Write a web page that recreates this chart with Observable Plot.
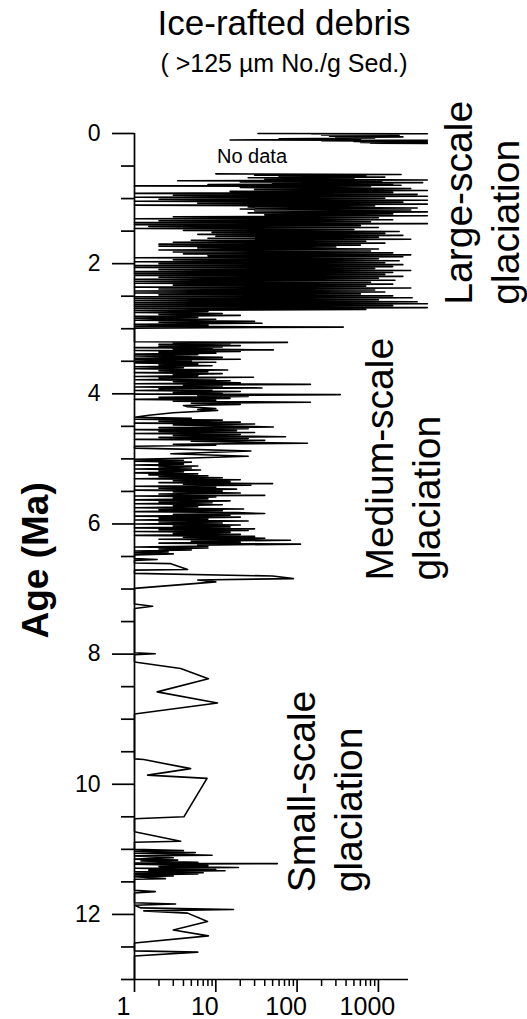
<!DOCTYPE html>
<html><head><meta charset="utf-8">
<script src="https://cdn.jsdelivr.net/npm/d3@7"></script>
<script src="https://cdn.jsdelivr.net/npm/@observablehq/plot@0.6"></script>
<style>
html,body{margin:0;padding:0;background:#fff;}
#wrap{position:relative;width:527px;height:1019px;font-family:"Liberation Sans",Arial,sans-serif;color:#000;overflow:hidden}
.t{position:absolute;left:284px;transform:translateX(-50%);white-space:nowrap;line-height:1}
#title{top:5px;font-size:35px}
#sub{top:51px;font-size:25px}
#chart{position:absolute;left:0;top:0}
</style></head><body>
<div id="wrap"><div id="chart"></div><div class="t" id="title">Ice-rafted debris</div><div class="t" id="sub">( &gt;125 µm No./g Sed.)</div></div>
<script>
// Age (Ma) of each sample
const ageMa = [
  0.000,0.004,0.008,0.012,0.016,0.020,0.024,0.028,0.032,0.036,
  0.040,0.044,0.048,0.052,0.060,0.070,0.080,0.090,0.100,0.105,
  0.112,0.118,0.124,0.130,0.136,0.142,0.148,0.152,
  0.400,
  0.620,0.630,0.640,0.650,0.660,0.670,0.680,0.690,0.700,0.715,
  0.725,0.735,0.745,0.755,0.765,0.775,0.785,0.795,0.805,0.815,
  0.830,0.845,0.860,0.875,0.890,0.905,0.920,0.935,0.950,0.965,
  0.980,0.995,1.010,1.025,1.040,1.055,1.070,1.085,1.100,1.115,
  1.130,1.145,1.160,1.175,1.190,1.205,1.220,1.235,1.250,1.265,
  1.280,1.295,1.310,1.325,1.340,1.355,1.370,1.385,1.400,1.415,
  1.430,1.445,1.460,1.475,1.490,1.505,1.520,1.535,1.550,1.565,
  1.580,1.595,1.610,1.625,1.640,1.655,1.670,1.685,1.700,1.715,
  1.730,1.745,1.760,1.775,1.790,1.805,1.820,1.835,1.850,1.865,
  1.880,1.895,1.910,1.925,1.940,1.955,1.970,1.985,2.000,2.015,
  2.030,2.045,2.060,2.075,2.090,2.105,2.120,2.135,2.150,2.165,
  2.180,2.195,2.210,2.225,2.240,2.255,2.270,2.285,2.300,2.315,
  2.330,2.345,2.360,2.375,2.390,2.405,2.420,2.435,2.450,2.465,
  2.480,2.495,2.510,2.525,2.540,2.555,2.570,2.585,2.600,2.615,
  2.630,2.645,2.660,2.675,2.690,2.705,2.720,
  2.735,2.750,2.765,2.780,2.795,2.810,2.825,2.840,2.855,2.870,
  2.885,2.900,2.915,2.930,2.945,2.960,2.975,2.990,3.200,3.210,
  3.220,3.230,3.240,3.250,3.260,3.270,3.280,3.290,3.300,3.310,
  3.325,3.335,3.350,3.360,3.375,3.390,3.400,3.420,3.440,3.455,
  3.470,3.480,
  3.495,3.505,3.515,3.525,3.540,3.555,3.570,3.585,3.600,3.615,
  3.635,3.645,3.660,3.675,3.690,3.705,3.720,3.735,3.745,3.755,
  3.770,3.785,3.800,3.815,3.830,3.845,3.855,3.865,3.880,3.895,
  3.910,3.920,3.935,3.950,3.965,3.980,3.995,4.005,4.012,4.025,
  4.040,4.055,4.070,4.085,4.100,4.115,4.130,4.145,4.165,4.180,
  4.200,4.225,4.240,4.255,4.290,4.330,4.360,
  4.375,4.390,4.405,4.420,4.435,4.450,4.465,4.480,4.495,4.510,
  4.520,4.535,4.550,4.565,4.580,4.595,4.610,4.625,4.640,4.660,
  4.670,4.685,4.700,4.715,4.730,4.745,4.760,4.775,4.790,4.805,
  4.835,4.850,4.880,4.920,4.960,4.990,
  5.005,5.020,5.035,5.050,5.065,5.080,5.095,5.110,5.125,5.140,
  5.155,5.170,5.185,5.200,5.215,5.230,5.245,5.260,5.275,5.290,
  5.305,5.320,5.335,5.350,5.365,5.380,5.390,5.405,5.420,5.435,
  5.450,5.465,5.480,5.495,5.510,5.525,5.540,5.560,5.570,5.585,
  5.600,5.615,5.630,5.645,5.660,5.675,5.690,5.705,5.720,5.735,
  5.750,5.770,5.780,5.795,5.810,5.825,5.840,5.850,5.865,5.880,
  5.895,5.910,5.925,5.940,5.955,5.970,5.985,6.000,6.015,6.030,
  6.045,6.060,6.075,6.090,6.100,6.115,6.130,6.145,6.160,6.175,
  6.190,6.205,6.220,6.235,6.250,6.265,6.280,6.295,6.310,6.325,
  6.340,6.355,6.370,6.385,6.400,6.415,6.430,6.445,6.460,6.475,
  6.530,6.545,6.560,6.600,6.610,6.700,6.710,6.760,6.800,6.840,
  6.860,6.890,6.990,
  7.230,7.265,7.300,7.980,7.995,8.010,8.120,8.220,8.380,8.580,
  8.750,8.920,9.610,9.620,9.760,9.860,9.910,10.500,10.530,10.730,
  10.875,10.890,11.000,11.020,11.030,11.050,11.060,11.090,11.100,11.130,
  11.150,11.165,11.180,11.200,11.210,11.220,11.230,11.250,11.265,11.280,
  11.290,11.310,11.320,11.330,11.345,11.360,11.370,11.380,11.395,11.410,
  11.420,11.450,11.460,11.630,11.650,11.670,11.820,11.840,11.860,11.900,
  11.925,11.945,11.980,12.110,12.240,12.330,12.440,12.560,12.580,12.640,
  13.000
];
// Ice-rafted debris (>125 µm grains per g sediment); null = no data
const irdCount = [
  33,4000,150,1500,300,1000,200,1800,400,800,
  250,1200,500,2000,300,900,60,600,15,4000,
  200,1600,500,4000,600,1200,800,4000,
  null,
  10,1900,30,700,60,1200,25,500,40,4000,
  3.4,1100,20,3500,50,1500,8,1900,1,800,
  20,2500,30,4000,15,1500,1,3000,3,4000,
  1,1200,2,4000,1,2000,6,4000,1,900,
  25,3000,20,2500,30,4000,25,1500,40,4000,
  3,1000,1,1500,2,800,1,4000,1,600,
  1.5,1000,1,500,4,1800,9,1200,6,2000,
  10,1000,8,2500,5,700,3,1200,2,600,
  2,300,6,1000,2,800,3,1500,4,2500,
  8,2000,1,1000,3,1800,1,1200,2,2000,
  1,1500,1,900,2,2500,1,1500,1,1200,
  1,2000,2,1000,1,1600,1,800,1,1500,
  3,700,1,2500,2,900,1,1200,1,600,
  2,1500,1,2600,1,1000,1,3000,1,4000,
  1,1500,1,4000,1,700,1,
  8,1,12,2,20,1,6,1,10,1,
  30,2,37,1,8,1,370,1,1,76,
  3,15,2,8,20,2,12,1,9,3,
  51,1,20,2,10,1,6,1,12,1,
  20,1,
  5,1,10,1,6,2,9,1,4,1,
  14,2,8,1,12,3,6,1,29,2,
  10,1,15,3,20,1,146,4,12,1,
  37,2,9,1,20,3,12,1,340,6,
  25,2,15,1,10,3,146,5,20,4,
  4.5,10,6,10.5,3,1.5,1,
  5,1,12,2,20,1,30,3,15,51,
  2,25,1,18,2,30,1,20,3,72,
  2,25,1,40,5,20,134,3,10,1,
  1,3.7,27,2.8,25,4,
  1,4,1,5,2,4,1,6,2,5,
  1,6.5,2,4,1,6,1.5,8,2,12,
  1,20,3,15,2,50,4,27,1,10,
  2,18,1,12,3,20,2,40,1,10,
  3,8,1,15,2,9,1,12,3,6,
  1,22,2,12,1,18,40,3,15,1,
  20,2,8,1,25,2,12,1,20,3,
  15,1,30,2,25,1,15,3,20,1,
  30,4,40,2,83,5,20,2,110,6,
  8,1,8,2,5,1,2.6,1,3,1,
  1,1.9,1,1,2.8,4.5,1,1,50,90,
  6,10,1,
  1,1.67,1,1,1.8,1,1,3.7,8.1,1.9,
  10.5,1,1,1.3,4.9,1.45,7.8,4.05,1,1,
  3.7,1,1,4,1,5.6,1,9,1,3,
  1,3.4,1.2,6,1,57,1,8,2,19,
  1,10,1.5,13,1,7,1,6,1,3,
  1,2.4,1,1,1.8,1,1,3.2,1,1.2,
  16.5,1.3,4.5,7.9,3,8.1,1,1,6,1,
  1
];

const yMajorTicks = [0, 2, 4, 6, 8, 10, 12];
const yMinorTicks = [0.5, 1, 1.5, 2.5, 3, 3.5, 4.5, 5, 5.5, 6.5, 7, 7.5, 8.5, 9, 9.5, 10.5, 11, 11.5, 12.5, 13];
const xMajorTicks = [1, 10, 100, 1000];
const xTickLabels = ["1", "10", "100", "1000"];
const xMinorTicks = [2, 3, 4, 5, 6, 7, 8, 9, 20, 30, 40, 50, 60, 70, 80, 90, 200, 300, 400, 500, 600, 700, 800, 900];

const regimeLabels = ["Large-scale\nglaciation", "Medium-scale\nglaciation", "Small-scale\nglaciation"];
const regimeIrd = [52900, 5650, 620];
const regimeAge = [2.63, 6.87, 11.66];

const noDataLabel = ["No data"];
const noDataIrd = [27.9];
const noDataAge = [0.46];

const axisTitle = ["Age (Ma)"];
const axisTitleIrd = [0.0875];
const axisTitleAge = [6.56];

const points = ageMa.map((a, i) => ({age: a, ird: irdCount[i]}));
const regimes = regimeLabels.map((t, i) => ({text: t, ird: regimeIrd[i], age: regimeAge[i]}));
const noData = noDataLabel.map((t, i) => ({text: t, ird: noDataIrd[i], age: noDataAge[i]}));
const yTitle = axisTitle.map((t, i) => ({text: t, ird: axisTitleIrd[i], age: axisTitleAge[i]}));
const xLabels = xMajorTicks.map((v, i) => ({v, text: xTickLabels[i]}));

const chart = Plot.plot({
  width: 527, height: 1019,
  marginLeft: 134, marginRight: 119, marginTop: 133, marginBottom: 40,
  style: {fontFamily: '"Liberation Sans", Arial, sans-serif', background: "transparent", color: "#000", overflow: "visible"},
  x: {type: "log", domain: [1, 2345], label: null},
  y: {domain: [0, 13], reverse: true, label: null},
  marks: [
    Plot.line(points, {x: "ird", y: "age", stroke: "#000", strokeWidth: 1.6}),
    Plot.ruleX([1], {stroke: "#000", strokeWidth: 1.7}),
    Plot.ruleY([13], {stroke: "#000", strokeWidth: 1.7}),
    Plot.axisY({ticks: yMajorTicks, tickSize: 22, tickPadding: 12, fontSize: 23, tickFormat: d => String(d), label: null, strokeWidth: 1.7}),
    Plot.axisY({ticks: yMinorTicks, tickSize: 13, fill: "none", label: null, strokeWidth: 1.7}),
    Plot.axisX({ticks: xMajorTicks, tickSize: 13, fill: "none", label: null, strokeWidth: 1.7}),
    Plot.axisX({ticks: xMinorTicks, tickSize: 7, fill: "none", label: null, strokeWidth: 1.5}),
    Plot.text(xLabels, {x: "v", text: "text", frameAnchor: "bottom", lineAnchor: "top", dy: 18, dx: -11, fontSize: 25}),
    Plot.text(noData, {x: "ird", y: "age", text: "text", lineAnchor: "bottom", textAnchor: "middle", fontSize: 20}),
    Plot.text(regimes, {x: "ird", y: "age", text: "text", rotate: -90, textAnchor: "start", lineAnchor: "bottom", lineHeight: 1.2, fontSize: 39}),
    Plot.text(yTitle, {x: "ird", y: "age", text: "text", rotate: -90, textAnchor: "middle", lineAnchor: "bottom", fontSize: 37, fontWeight: "bold"})
  ]
});
document.getElementById("chart").append(chart);
</script>
</body></html>
